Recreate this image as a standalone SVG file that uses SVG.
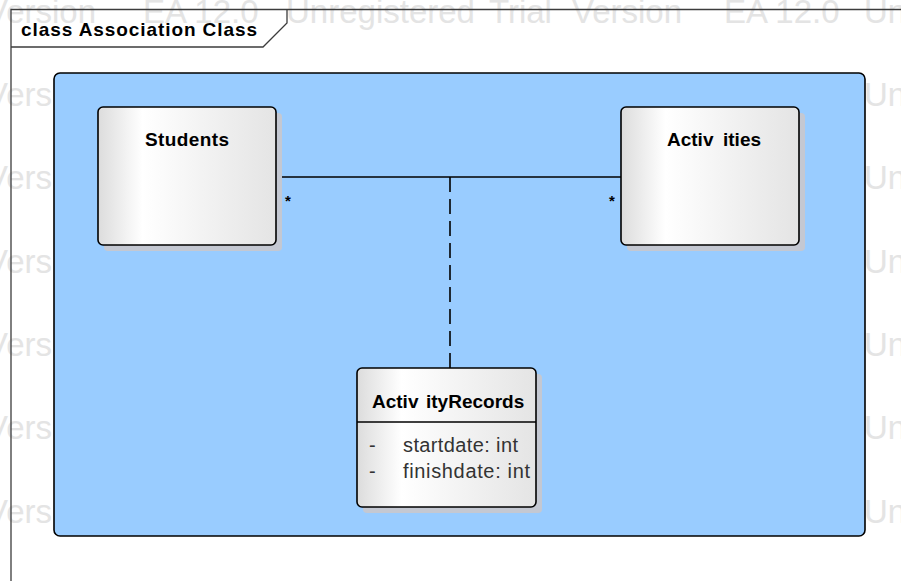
<svg xmlns="http://www.w3.org/2000/svg" width="901" height="581" viewBox="0 0 901 581">
<style>
.wm{font-family:"Liberation Sans",Arial,sans-serif;font-size:33px;fill:#e4e4e4}
.frame{fill:none;stroke:#3c3c3c;stroke-width:1.3}
.node{fill:url(#g);stroke:#000;stroke-width:1.6}
.shadow{fill:#c4c8d2}
.name{font-family:"Liberation Sans",Arial,sans-serif;font-size:19px;font-weight:bold;fill:#000}
.attr{font-family:"Liberation Sans",Arial,sans-serif;font-size:20px;fill:#333}
.mult{font-family:"Liberation Sans",Arial,sans-serif;font-size:15px;font-weight:bold;fill:#000;text-anchor:middle}
.conn{fill:none;stroke:#000;stroke-width:1.6}
</style>
<defs>
<linearGradient id="g" x1="0" y1="0" x2="1" y2="0">
<stop offset="0" stop-color="#dcdcdc"/>
<stop offset="0.25" stop-color="#ffffff"/>
<stop offset="1" stop-color="#e4e4e4"/>
</linearGradient>
</defs>
<rect width="901" height="581" fill="#fff"/>
<g id="watermark" class="wm">
<text y="23"><tspan x="-14">Version</tspan><tspan x="143">EA 12.0</tspan><tspan x="286">Unregistered</tspan><tspan x="489">Trial</tspan><tspan x="572">Version</tspan><tspan x="724">EA 12.0</tspan><tspan x="864">Un</tspan></text>
<text y="106"><tspan x="-14">Version</tspan><tspan x="864">Un</tspan></text>
<text y="189"><tspan x="-14">Version</tspan><tspan x="864">Un</tspan></text>
<text y="273"><tspan x="-14">Version</tspan><tspan x="864">Un</tspan></text>
<text y="356"><tspan x="-14">Version</tspan><tspan x="864">Un</tspan></text>
<text y="439"><tspan x="-14">Version</tspan><tspan x="864">Un</tspan></text>
<text y="523"><tspan x="-14">Version</tspan><tspan x="864">Un</tspan></text>
</g>
<g id="frame">
<path class="frame" d="M11,581 V9.5 H901"/>
<path class="frame" d="M11,47 H263 L287,23 V9.5"/>
<text x="21" y="36" class="name" textLength="236" lengthAdjust="spacing">class Association Class</text>
</g>
<g id="package">
<rect x="54" y="73" width="811" height="463" rx="6" fill="#99ccff" stroke="#000" stroke-width="1.6"/>
</g>
<g id="connectors">
<line class="conn" x1="276" y1="177" x2="621" y2="177"/>
<line class="conn" x1="450" y1="177" x2="450" y2="368" stroke-dasharray="15 7"/>
<text class="mult" x="288" y="206">*</text>
<text class="mult" x="612" y="206">*</text>
</g>
<g id="Students">
<rect class="shadow" x="104" y="113" width="178" height="138" rx="4"/>
<rect class="node" x="98" y="107" width="178" height="138" rx="5"/>
<text class="name" x="145" y="146" letter-spacing="0.4">Students</text>
</g>
<g id="Activities">
<rect class="shadow" x="627" y="113" width="178" height="138" rx="4"/>
<rect class="node" x="621" y="107" width="178" height="138" rx="5"/>
<text class="name" y="146"><tspan x="667">Activ</tspan><tspan x="723">ities</tspan></text>
</g>
<g id="ActivityRecords">
<rect class="shadow" x="363" y="374" width="179" height="139" rx="4"/>
<rect class="node" x="357" y="368" width="179" height="139" rx="5"/>
<line x1="357" y1="422" x2="536" y2="422" stroke="#000" stroke-width="1.6"/>
<text class="name" y="408"><tspan x="372">Activ</tspan><tspan x="426">ityRecords</tspan></text>
<text class="attr" x="369" y="452">-</text>
<text class="attr" x="403" y="452" textLength="115" lengthAdjust="spacing">startdate: int</text>
<text class="attr" x="369" y="478">-</text>
<text class="attr" x="403" y="478" textLength="127" lengthAdjust="spacing">finishdate: int</text>
</g>
</svg>
